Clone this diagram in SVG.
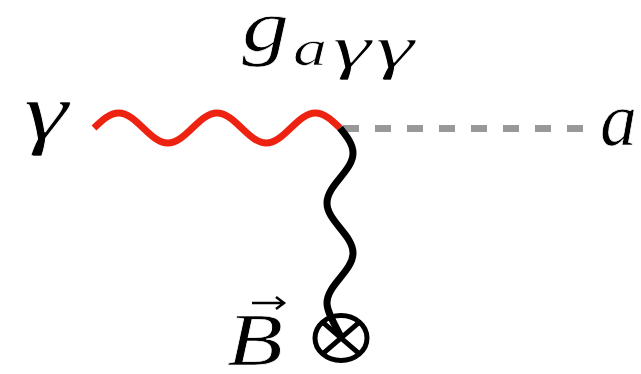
<svg xmlns="http://www.w3.org/2000/svg" width="641" height="374" viewBox="0 0 641 374">
<style>
.wave{fill:none;stroke-linecap:butt;stroke-linejoin:round}
</style>
<rect width="641" height="374" fill="#fff"/>
<g id="connectors">
<path id="axion-line" d="M343,128.5 H586" fill="none" stroke="#999" stroke-width="7" stroke-dasharray="16 16"/>
<path id="photon-wave" class="wave" stroke="#ee2211" stroke-width="7" d="M94,128 c 8.03,-7.69 15.70,-15 24.6,-15 s 16.57,7.31 24.6,15 s 15.70,15 24.6,15 s 16.57,-7.31 24.6,-15 s 15.70,-15 24.6,-15 s 16.57,7.31 24.6,15 s 15.70,15 24.6,15 s 16.57,-7.31 24.6,-15 s 15.70,-15 24.6,-15 s 16.57,7.31 24.6,15"/>
<path id="field-wave" class="wave" stroke="#000" stroke-width="7" d="M340,128 c 6.67,8.16 13,15.96 13,25 s -6.33,16.84 -13,25 s -13,15.96 -13,25 s 6.33,16.84 13,25 s 13,15.96 13,25 s -6.33,16.84 -13,25 s -13,15.96 -13,25 c 0,9 7,20 14,34"/>
</g>
<g id="labels" font-family="Liberation Serif, serif" font-style="italic" fill="#000" stroke="#fff" stroke-width="0.7">
<g id="photon">
<text x="24" y="139" font-size="80" textLength="44" lengthAdjust="spacingAndGlyphs">γ</text>
</g>
<g id="axion">
<text x="600" y="145" font-size="77" textLength="37" lengthAdjust="spacingAndGlyphs">a</text>
</g>
<g id="coupling">
<text x="242" y="51" font-size="74" textLength="47" lengthAdjust="spacingAndGlyphs">g</text>
<text x="293" y="65" font-size="50" textLength="34" lengthAdjust="spacingAndGlyphs">a</text>
<text x="333" y="67" font-size="60" textLength="38" lengthAdjust="spacingAndGlyphs">γ</text>
<text x="376" y="67" font-size="60" textLength="38" lengthAdjust="spacingAndGlyphs">γ</text>
</g>
<g id="bfield-label">
<text x="227" y="365" font-size="73" textLength="56" lengthAdjust="spacingAndGlyphs">B</text>
</g>
</g>
<g id="bfield">
<path d="M252,303 H283 M276,297 L284,303 L276,309" fill="none" stroke="#000" stroke-width="2.5"/>
<ellipse cx="341" cy="338" rx="26" ry="22.5" fill="none" stroke="#000" stroke-width="5"/>
<path d="M322.6,322.1 L359.4,353.9 M359.4,322.1 L322.6,353.9" stroke="#000" stroke-width="5"/>
</g>
</svg>
